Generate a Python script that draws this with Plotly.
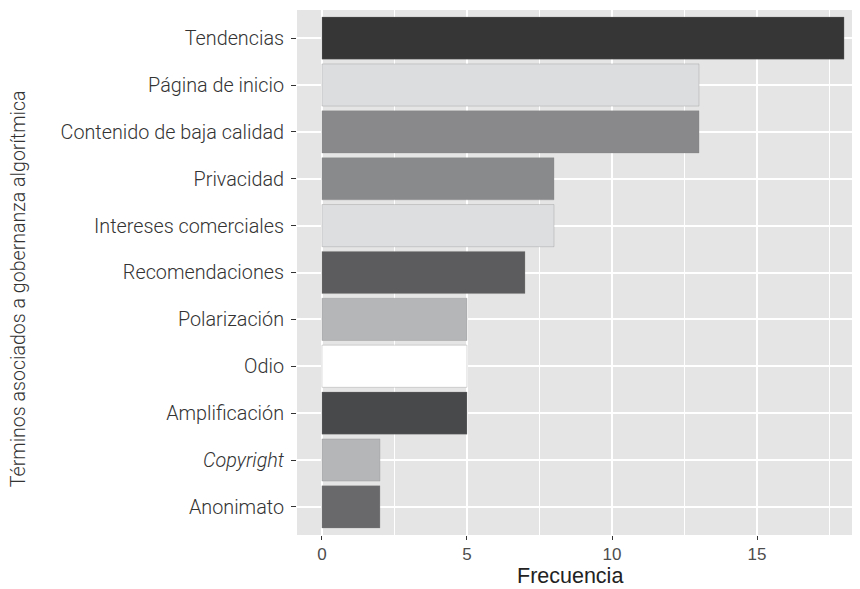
import plotly.graph_objects as go

terms = ["Tendencias", "Página de inicio", "Contenido de baja calidad", "Privacidad",
         "Intereses comerciales", "Recomendaciones", "Polarización", "Odio",
         "Amplificación", "Copyright", "Anonimato"]
tick_labels = ["Tendencias", "Página de inicio", "Contenido de baja calidad", "Privacidad",
               "Intereses comerciales", "Recomendaciones", "Polarización", "Odio",
               "Amplificación", "<i>Copyright</i>", "Anonimato"]
freq = [18, 13, 13, 8, 8, 7, 5, 5, 5, 2, 2]
fills = ["#363636", "#dcdddf", "#89898b", "#898a8c", "#dddee0", "#5c5c5e",
         "#b5b6b8", "#ffffff", "#48494b", "#b5b6b8", "#69696b"]
x_ticks = [0, 5, 10, 15]
x_minor = [2.5, 7.5, 12.5, 17.5]

# plot bottom-to-top
terms_r = terms[::-1]
freq_r = freq[::-1]
fills_r = fills[::-1]
labels_r = tick_labels[::-1]

fig = go.Figure()
fig.add_trace(go.Bar(
    x=freq_r, y=terms_r, orientation="h", width=0.9,
    marker=dict(color=fills_r, line=dict(color="rgba(130,130,130,0.5)", width=0.6)),
    showlegend=False, hoverinfo="x+y",
))

fig.update_layout(
    width=852, height=581,
    margin=dict(l=289, r=0, t=2, b=54),
    paper_bgcolor="white", plot_bgcolor="#e5e5e5",
    xaxis=dict(
        range=[-0.86, 18.55], tickvals=x_ticks, ticktext=[str(v) for v in x_ticks],
        showgrid=True, gridcolor="white", gridwidth=1.6,
        minor=dict(tickvals=x_minor, showgrid=True, gridcolor="white", gridwidth=0.8),
        zeroline=False, ticks="outside", ticklen=4, tickwidth=1.1, tickcolor="#333333",
        tickfont=dict(family="Liberation Sans, Arial", size=17, color="#4d4d4d"),
        showline=False, fixedrange=True,
    ),
    yaxis=dict(
        range=[-0.6, 10.6], categoryorder="array", categoryarray=terms_r,
        tickmode="array", tickvals=terms_r, ticktext=labels_r,
        showgrid=True, gridcolor="white", gridwidth=1.6,
        ticks="outside", ticklen=5, tickwidth=1.1, tickcolor="#333333",
        ticklabelstandoff=3,
        tickfont=dict(family="Roboto", size=19.8, color="#333333", weight=300),
        showline=False, fixedrange=True,
    ),
    annotations=[
        dict(text="Términos asociados a gobernanza algorítmica", textangle=-90,
             xref="paper", yref="paper", x=-0.4956, y=0.47, xanchor="center", yanchor="middle",
             showarrow=False, font=dict(family="Roboto", size=19.6, color="#333333", weight=300)),
        dict(text="Frecuencia", xref="paper", yref="paper", x=(570 - 297) / 563, y=-0.0785,
             xanchor="center", yanchor="middle", showarrow=False,
             font=dict(family="Liberation Sans, Arial", size=21.5, color="#222222")),
    ],
)

fig.write_html("out.html")
